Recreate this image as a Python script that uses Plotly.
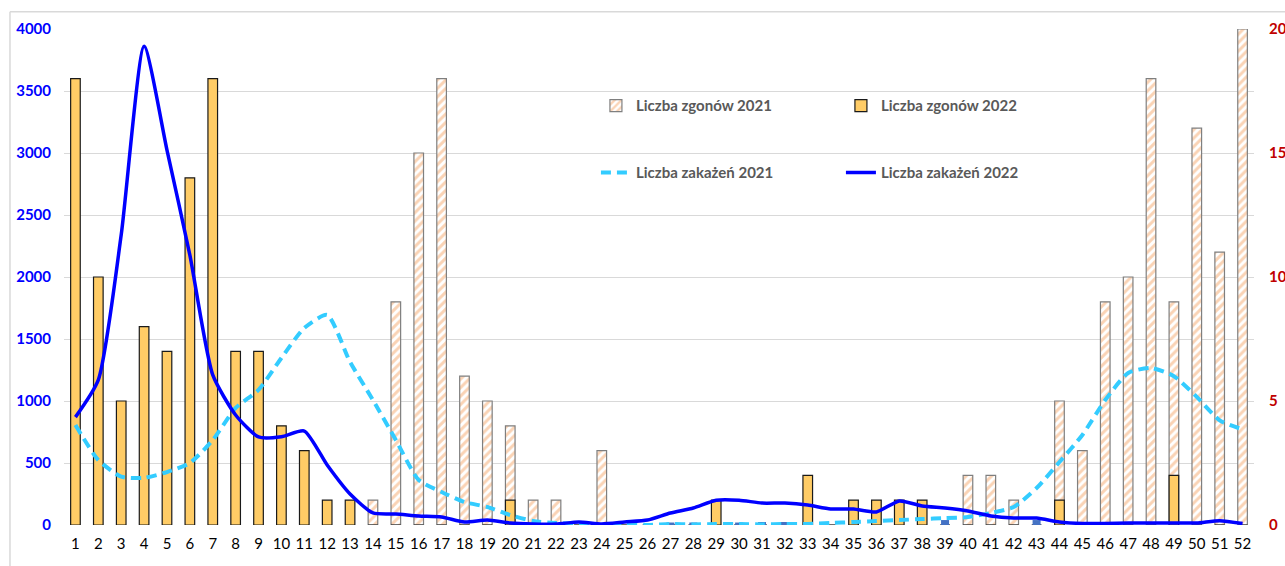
import plotly.graph_objects as go

weeks = list(range(1, 53))
week_labels = [str(w) for w in weeks]

# deaths (right axis, 0-20)
deaths_2021 = [0, 0, 0, 0, 0, 0, 0, 0, 0, 0, 0, 0, 0, 1, 9, 15, 18, 6, 5, 4,
               1, 1, 0, 3, 0, 0, 0, 0, 0, 0, 0, 0, 0, 0, 0, 0, 0, 0, 0, 2,
               2, 1, 0, 5, 3, 9, 10, 18, 9, 16, 11, 20]
deaths_2022 = [18, 10, 5, 8, 7, 14, 18, 7, 7, 4, 3, 1, 1, 0, 0, 0, 0, 0, 0, 1,
               0, 0, 0, 0, 0, 0, 0, 0, 1, 0, 0, 0, 2, 0, 1, 1, 1, 1, 0, 0,
               0, 0, 0, 1, 0, 0, 0, 0, 2, 0, 0, 0]
# small unlabeled series visible near the baseline
other_small = [0, 0, 0, 0, 0, 0, 0, 0, 0, 0, 0, 0, 0, 0, 0, 0, 0, 0, 0, 0,
               0, 0, 0, 0, 0, 0, 0.1, 0.1, 0, 0.1, 0.12, 0.12, 0, 0, 0, 0, 0, 0, 0.2, 0,
               0, 0, 0.2, 0, 0, 0, 0, 0, 0, 0, 0, 0]

# infections (left axis, 0-4000)
inf_2021 = [806, 524, 390, 380, 427, 500, 685, 944, 1089, 1347, 1589, 1694, 1315, 1008, 685, 363,
            266, 185, 145, 80, 32, 16, 8, 0, 8, 0, 8, 5, 8, 8, 5, 8, 8, 16, 24, 32,
            40, 48, 56, 64, 97, 145, 298, 508, 726, 1008, 1226, 1266, 1200, 1033, 844, 771]
inf_2022 = [870, 1170, 2340, 3860, 3024, 2177, 1210, 887, 710, 712, 758, 484, 250, 97, 89, 73,
            65, 24, 40, 16, 8, 8, 24, 8, 24, 40, 97, 137, 200, 200, 177, 177, 161, 129, 129, 105,
            194, 153, 137, 113, 73, 56, 56, 24, 12, 12, 16, 16, 16, 16, 35, 12]

left_ticks = [0, 500, 1000, 1500, 2000, 2500, 3000, 3500, 4000]
right_grid = [0, 2.5, 5, 7.5, 10, 12.5, 15, 17.5, 20]
right_text = ["0", "", "5", "", "10", "", "15", "", "20"]

FONT = "Lato"
fig = go.Figure()

fig.add_trace(go.Bar(
    x=weeks, y=deaths_2021, name="Liczba zgonów 2021", width=0.42,
    marker=dict(color="white", line=dict(color="#7F7F7F", width=1.2),
                pattern=dict(shape="/", fgcolor="#F6A86C", bgcolor="white", size=6, solidity=0.5)),
    legend="legend", yaxis="y",
))
fig.add_trace(go.Bar(
    x=weeks, y=deaths_2022, name="Liczba zgonów 2022", width=0.42,
    marker=dict(color="#FFCC66", line=dict(color="#1A1A1A", width=1.2)),
    legend="legend", yaxis="y",
))
fig.add_trace(go.Bar(
    x=weeks, y=other_small, name="inne", width=0.35, showlegend=False,
    marker=dict(color="#4472C4", line=dict(width=0)),
    yaxis="y", hoverinfo="skip",
))
fig.add_trace(go.Scatter(
    x=weeks, y=inf_2021, name="Liczba zakażeń 2021", mode="lines",
    line=dict(color="#33CCFF", width=4, dash="10px,6px", shape="spline", smoothing=0.6),
    legend="legend2", yaxis="y2",
))
fig.add_trace(go.Scatter(
    x=weeks, y=inf_2022, name="Liczba zakażeń 2022", mode="lines",
    line=dict(color="#0000FF", width=3.5, shape="spline", smoothing=0.6),
    legend="legend2", yaxis="y2",
))

legend_common = dict(
    orientation="h", xanchor="left", yanchor="middle", bgcolor="rgba(0,0,0,0)",
    font=dict(family=FONT, size=15, color="#595959", weight="bold"),
    entrywidth=200, entrywidthmode="pixels", itemwidth=30, tracegroupgap=0,
)

fig.update_layout(
    width=1285, height=566,
    margin=dict(l=64, r=31, t=29, b=41, autoexpand=False),
    paper_bgcolor="white", plot_bgcolor="white",
    barmode="overlay",
    font=dict(family=FONT),
    xaxis=dict(
        tickmode="array", tickvals=weeks, ticktext=week_labels, automargin=False,
        range=[0.5, 52.5], showgrid=False, showline=False, zeroline=False,
        ticks="", tickfont=dict(family=FONT, size=15, color="#000000"), ticklabelstandoff=8,
    ),
    yaxis=dict(
        side="right", range=[0, 20], tickmode="array", tickvals=right_grid, ticktext=right_text,
        showgrid=True, gridcolor="#D9D9D9", gridwidth=1, zeroline=False, showline=False,
        automargin=False,
        tickfont=dict(family=FONT, size=15, color="#C00000", weight="bold"), ticklabelstandoff=14,
    ),
    yaxis2=dict(
        side="left", overlaying="y", range=[0, 4000], tickmode="array", tickvals=left_ticks,
        showgrid=False, zeroline=False, showline=False, automargin=False,
        tickfont=dict(family=FONT, size=15, color="#0000FF", weight="bold"), ticklabelstandoff=12,
    ),
    legend=dict(x=0.447, y=0.845, **legend_common),
    legend2=dict(x=0.447, y=0.71, **legend_common),
    shapes=[
        dict(type="line", xref="paper", yref="paper", x0=-0.0454, x1=1.1, y0=1.0347, y1=1.0347,
             line=dict(color="#D9D9D9", width=1.5)),
        dict(type="line", xref="paper", yref="paper", x0=-0.0454, x1=-0.0454, y0=-0.2, y1=1.0347,
             line=dict(color="#D9D9D9", width=1.5)),
    ],
)

fig.write_html(
    "out.html",
    config={"displayModeBar": False},
    post_script="document.body.style.margin='0px';document.body.style.overflow='hidden';",
)
